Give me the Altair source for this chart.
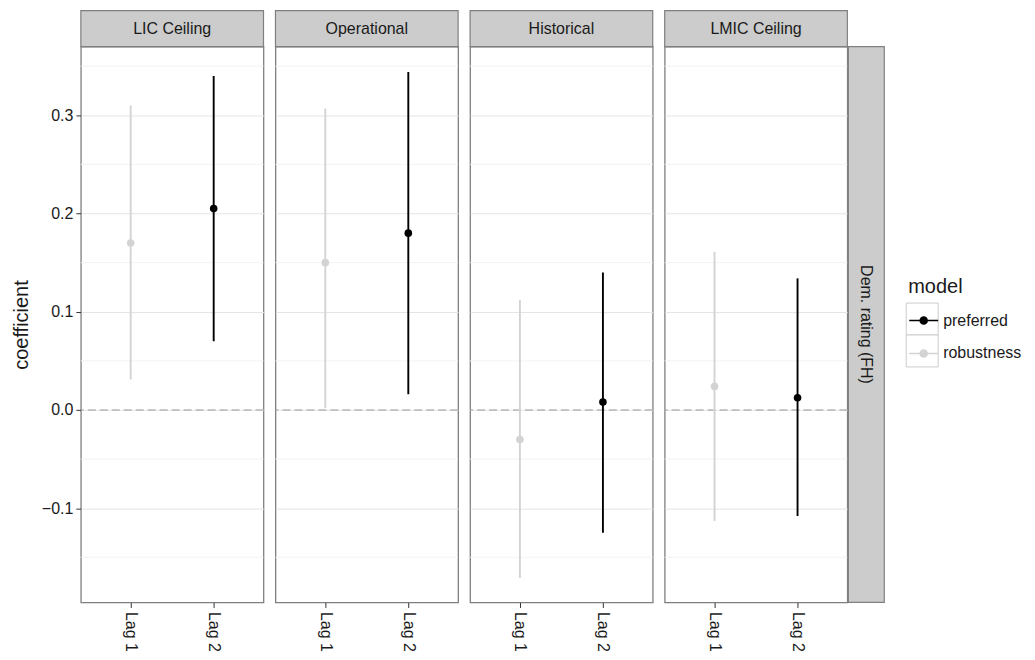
import altair as alt
import pandas as pd

panels = ["LIC Ceiling", "Operational", "Historical", "LMIC Ceiling"]
lags = ["Lag 1", "Lag 2"]
lag_models = ["robustness", "preferred"]
models = ["preferred", "robustness"]
model_colors = ["#000000", "#D3D3D3"]

est = [[0.170, 0.205], [0.150, 0.180], [-0.030, 0.008], [0.024, 0.0125]]
lo = [[0.031, 0.070], [0.002, 0.016], [-0.171, -0.125], [-0.113, -0.108]]
hi = [[0.310, 0.340], [0.307, 0.344], [0.112, 0.140], [0.161, 0.134]]

major_ticks = [-0.1, 0.0, 0.1, 0.2, 0.3]
minor_ticks = [-0.15, -0.05, 0.05, 0.15, 0.25, 0.35]
y_domain = [-0.196, 0.370]
row_label = "Dem. rating (FH)"

rows = []
for i, p in enumerate(panels):
    for j, lag in enumerate(lags):
        rows.append({"panel": p, "lag": lag, "model": lag_models[j],
                     "est": est[i][j], "lo": lo[i][j], "hi": hi[i][j]})
df = pd.DataFrame(rows)

W, H = 183, 557
STRIP = 36
FONT = "Liberation Sans"
TXT = "#1a1a1a"
BORDER = "#7F7F7F"

legend_path = "M-1,0L1,0M-0.24,0A0.24,0.24,0,1,0,0.24,0A0.24,0.24,0,1,0,-0.24,0Z"
legend = alt.Legend(
    title="model", symbolType=legend_path, symbolSize=841, symbolStrokeWidth=1.6,
    titleFontSize=20, labelFontSize=16, titleFontWeight="normal", titleColor=TXT, labelColor=TXT,
    orient="none", legendX=829, legendY=231, rowPadding=9, padding=0, titlePadding=8,
    labelOffset=4,
)
color = alt.Color("model:N", scale=alt.Scale(domain=models, range=model_colors), legend=legend)


def panel(i):
    d = df[df.panel == panels[i]]
    first = i == 0
    if first:
        yaxis = alt.Axis(values=major_ticks, format=".1f", title="coefficient", titleFontSize=20,
                         titleFontWeight="normal", titleColor=TXT, labelFontSize=16, labelColor=TXT,
                         tickColor="#333333", tickSize=5, domain=False, gridColor="#E5E5E5",
                         titlePadding=10, labelPadding=3)
    else:
        yaxis = alt.Axis(values=major_ticks, labels=False, ticks=False, domain=False, title=None,
                         gridColor="#E5E5E5")
    xaxis = alt.Axis(title=None, labelAngle=90, labelAlign="left", labelBaseline="middle",
                     labelFontSize=16, labelColor=TXT, tickColor="#333333", tickSize=5,
                     domain=False, gridColor="#E5E5E5", labelPadding=4)
    xs = alt.Scale(domain=lags, type="point", padding=0.6)
    ys = alt.Scale(domain=y_domain, nice=False, zero=False)

    minor = alt.Chart(pd.DataFrame({"m": minor_ticks})).mark_rule(color="#F3F3F3", strokeWidth=1).encode(
        y=alt.Y("m:Q", scale=ys, axis=yaxis))
    zero = alt.Chart(pd.DataFrame({"z": [0.0]})).mark_rule(
        color="#999999", strokeDash=[8, 4], strokeWidth=1.1).encode(y=alt.Y("z:Q", scale=ys, axis=yaxis))
    base = alt.Chart(d)
    ranges = base.mark_rule(strokeWidth=1.9).encode(
        x=alt.X("lag:N", scale=xs, axis=xaxis),
        y=alt.Y("lo:Q", scale=ys, axis=yaxis), y2="hi:Q", color=color)
    pts = base.mark_point(size=58, opacity=1, filled=True, strokeWidth=1.5).encode(
        x=alt.X("lag:N", scale=xs, axis=xaxis),
        y=alt.Y("est:Q", scale=ys, axis=yaxis), color=color)

    sdf = pd.DataFrame({"label": [panels[i]]})
    strip = alt.Chart(sdf).mark_rect(fill="#CCCCCC", stroke=BORDER, strokeWidth=1.2).encode(
        x=alt.value(0), x2=alt.value(W), y=alt.value(-STRIP), y2=alt.value(0))
    stext = alt.Chart(sdf).mark_text(fontSize=16, font=FONT, color=TXT).encode(
        x=alt.value(W / 2), y=alt.value(-STRIP / 2), text="label:N")
    layers = [minor, zero, ranges, pts, strip, stext]
    if i == len(panels) - 1:
        rdf = pd.DataFrame({"label": [row_label]})
        rstrip = alt.Chart(rdf).mark_rect(fill="#CCCCCC", stroke=BORDER, strokeWidth=1.2).encode(
            x=alt.value(W + 1), x2=alt.value(W + 1 + STRIP), y=alt.value(0), y2=alt.value(H))
        rtext = alt.Chart(rdf).mark_text(fontSize=16, font=FONT, color=TXT, angle=90).encode(
            x=alt.value(W + 1 + STRIP / 2), y=alt.value(H / 2), text="label:N")
        # legend key boxes (decoration behind the legend symbols)
        key1 = alt.Chart(rdf).mark_rect(fill="white", stroke="#CCCCCC", strokeWidth=1).encode(
            x=alt.value(242), x2=alt.value(274), y=alt.value(257), y2=alt.value(289))
        key2 = alt.Chart(rdf).mark_rect(fill="white", stroke="#CCCCCC", strokeWidth=1).encode(
            x=alt.value(242), x2=alt.value(274), y=alt.value(289), y2=alt.value(321))
        layers += [rstrip, rtext, key1, key2]
    return alt.layer(*layers).properties(width=W, height=H)


chart = (
    alt.hconcat(*[panel(i) for i in range(len(panels))], spacing=8)
    .properties(padding={"left": 2, "top": 0, "right": 5, "bottom": 0})
    .configure(font=FONT)
    .configure_view(stroke=BORDER, strokeWidth=1.3)
)

chart.save("out.html", embed_options={"renderer": "svg", "actions": False})
